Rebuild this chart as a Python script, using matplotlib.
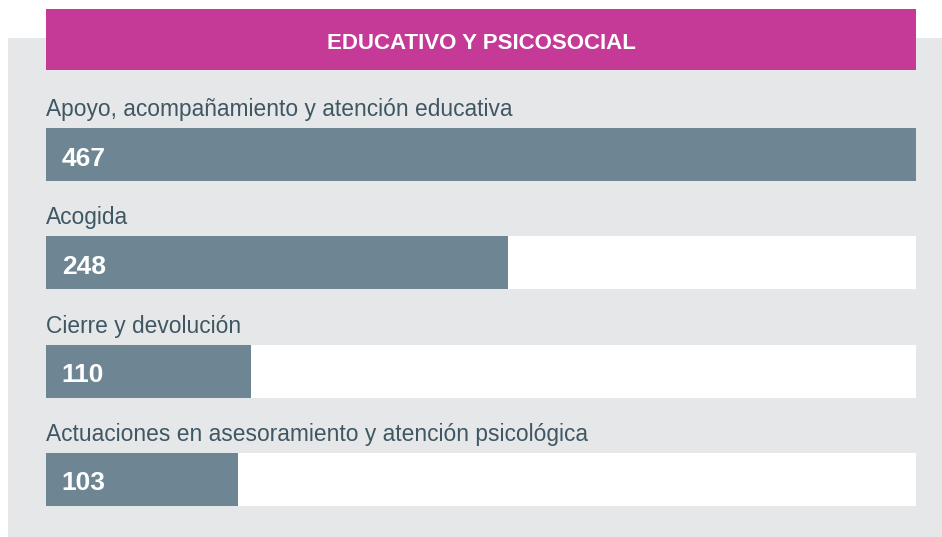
import matplotlib
matplotlib.use("Agg")
import matplotlib.pyplot as plt
from matplotlib.patches import Rectangle

title = "EDUCATIVO Y PSICOSOCIAL"
categories = [
    "Apoyo, acompañamiento y atención educativa",
    "Acogida",
    "Cierre y devolución",
    "Actuaciones en asesoramiento y atención psicológica",
]
values = [467, 248, 110, 103]

W, H = 942, 537
BG_GRAY = "#E6E7E9"
MAGENTA = "#C43A96"
BAR = "#6E8693"
LABEL = "#3F5763"

plt.rcParams["font.family"] = ["Liberation Sans", "DejaVu Sans"]

fig = plt.figure(figsize=(W / 100, H / 100), dpi=100)
fig.patch.set_facecolor("white")

def px(x0, y0, x1, y1):
    # pixel box (top-left origin) -> figure fraction rect
    return (x0 / W, 1 - y1 / H, (x1 - x0) / W, (y1 - y0) / H)

# gray panel
l, b, w, h = px(8, 38, 942, 537)
fig.patches.append(Rectangle((l, b), w, h, transform=fig.transFigure,
                             facecolor=BG_GRAY, edgecolor="none", zorder=-2))
# header
l, b, w, h = px(46, 9, 916, 70)
fig.patches.append(Rectangle((l, b), w, h, transform=fig.transFigure,
                             facecolor=MAGENTA, edgecolor="none", zorder=-1))
fig.text(l + w / 2, 1 - 41 / H, title, color="white", fontsize=16,
         fontweight="bold", ha="center", va="center_baseline", zorder=5)

# bars axes
ax = fig.add_axes(px(46, 100.5, 916, 533.5))
ax.set_zorder(3)
ax.set_facecolor("none")
vmax = max(values)
n = len(values)
ys = list(range(n))
bh = 0.49
ax.barh(ys, [vmax] * n, height=bh, color="white", edgecolor="none", zorder=1)
ax.barh(ys, values, height=bh, color=BAR, edgecolor="none", zorder=2)
ax.set_xlim(0, vmax)
ax.set_ylim(n - 0.5, -0.5)
ax.axis("off")

for y, cat, v in zip(ys, categories, values):
    ax.text(0, y - bh / 2 - 0.11, cat, color=LABEL, fontsize=16.4,
            ha="left", va="baseline", zorder=3)
    ax.text(vmax * 0.018, y + 0.015, str(v), color="white", fontsize=19,
            fontweight="bold", ha="left", va="center_baseline", zorder=3)

fig.savefig("out.png", dpi=100, facecolor=fig.get_facecolor())
